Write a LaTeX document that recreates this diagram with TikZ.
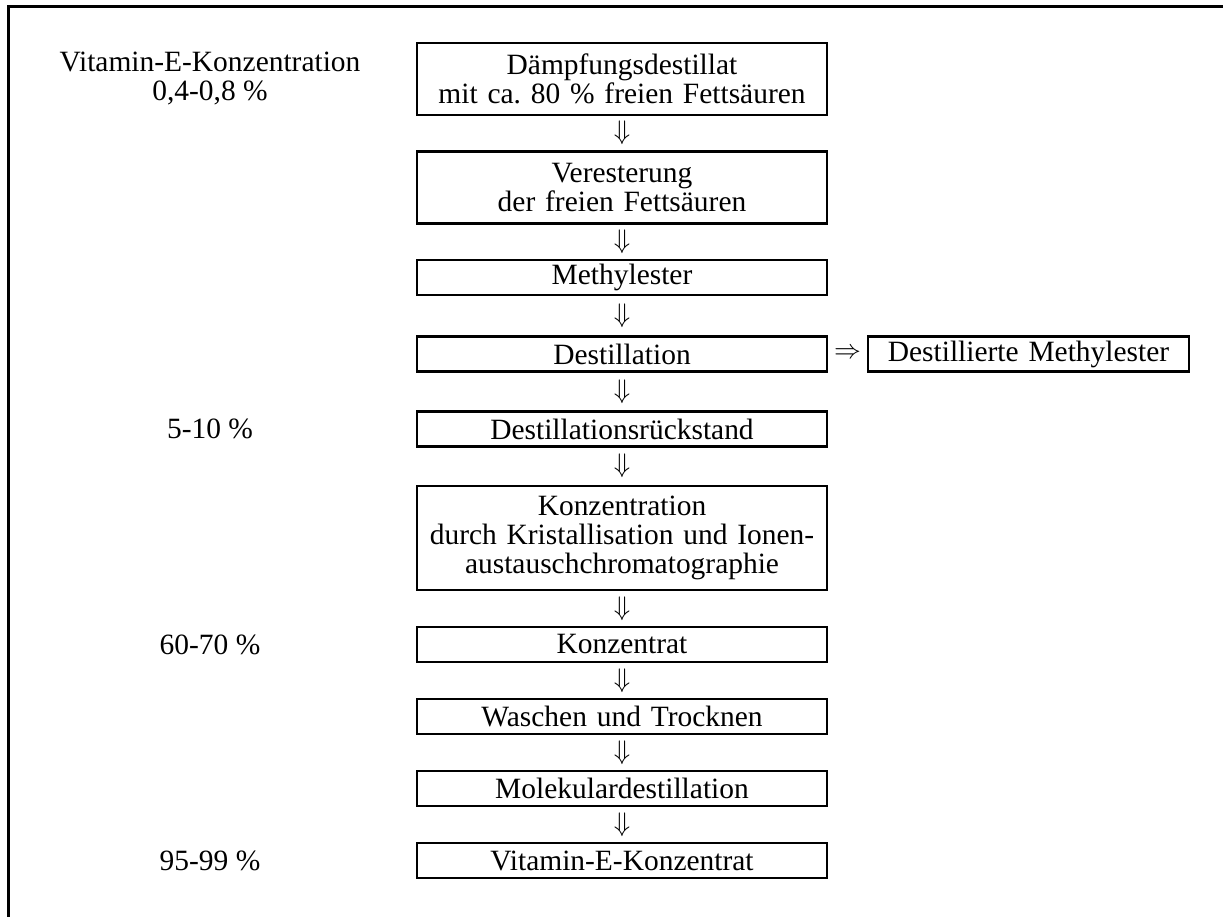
\documentclass[tikz,border=0pt]{standalone}
\usepackage{fontspec}
\setmainfont{Liberation Serif}
\usetikzlibrary{calc}
\frenchspacing
\begin{document}
\begin{tikzpicture}[x=0.4075pt,y=-0.4075pt,
  txt/.style={font=\fontsize{12}{11.8}\selectfont, inner sep=0pt, align=center},
  stepbox/.style={txt, draw, line width=1.1pt, minimum width=167.1pt, text width=160pt, minimum height=14.26pt},
  sidebox/.style={txt, draw, line width=1.1pt, minimum width=130.8pt, text width=125pt, minimum height=14.26pt},
  darrow/.style={inner sep=0pt, font=\fontsize{11}{11}\selectfont},
  rarrow/.style={inner sep=0pt, font=\fontsize{10.5}{10.5}\selectfont},
  frame/.style={line width=1.3pt}]
\useasboundingbox (0,0) rectangle (1223,917);
\draw[frame] (8.5,917) -- (8.5,6.5) -- (1223,6.5);

\node[stepbox, minimum height=29.34pt] (b1) at (622,79) {Dämpfungsdestillat\\mit ca. 80 \% freien Fettsäuren};
\node[stepbox, minimum height=29.34pt] (b2) at (622,187.5) {Veresterung\\der freien Fettsäuren};
\node[stepbox] (b3) at (622,277.5) {Methylester};
\node[stepbox] (b4) at (622,354) {Destillation};
\node[stepbox] (b5) at (622,429) {Destillationsrückstand};
\node[stepbox, minimum height=42.4pt] (b6) at (622,538) {Konzentration\\durch Kristallisation und Ionen-\\austauschchromatographie};
\node[stepbox] (b7) at (622,644.5) {Konzentrat};
\node[stepbox] (b8) at (622,716.5) {Waschen und Trocknen};
\node[stepbox] (b9) at (622,788.5) {Molekulardestillation};
\node[stepbox] (b10) at (622,860.5) {Vitamin-E-Konzentrat};

\node[sidebox] (r) at (1028.5,354) {Destillierte Methylester};
\node[rarrow] (ra) at ($(b4.east)!0.5!(r.west)$) {$\Rightarrow$};

\foreach \a/\b in {b1/b2,b2/b3,b3/b4,b4/b5,b5/b6,b6/b7,b7/b8,b8/b9,b9/b10}{
  \node[darrow] (arr-\a) at ($(\a.south)!0.5!(\b.north)$) {$\Downarrow$};
}

\node[txt] (l1) at (210,79) {Vitamin-E-Konzentration\\0,4-0,8 \%};
\node[txt] (l5) at (210,429) {5-10 \%};
\node[txt] (l7) at (210,644.5) {60-70 \%};
\node[txt] (l10) at (210,860.5) {95-99 \%};
\end{tikzpicture}
\end{document}
